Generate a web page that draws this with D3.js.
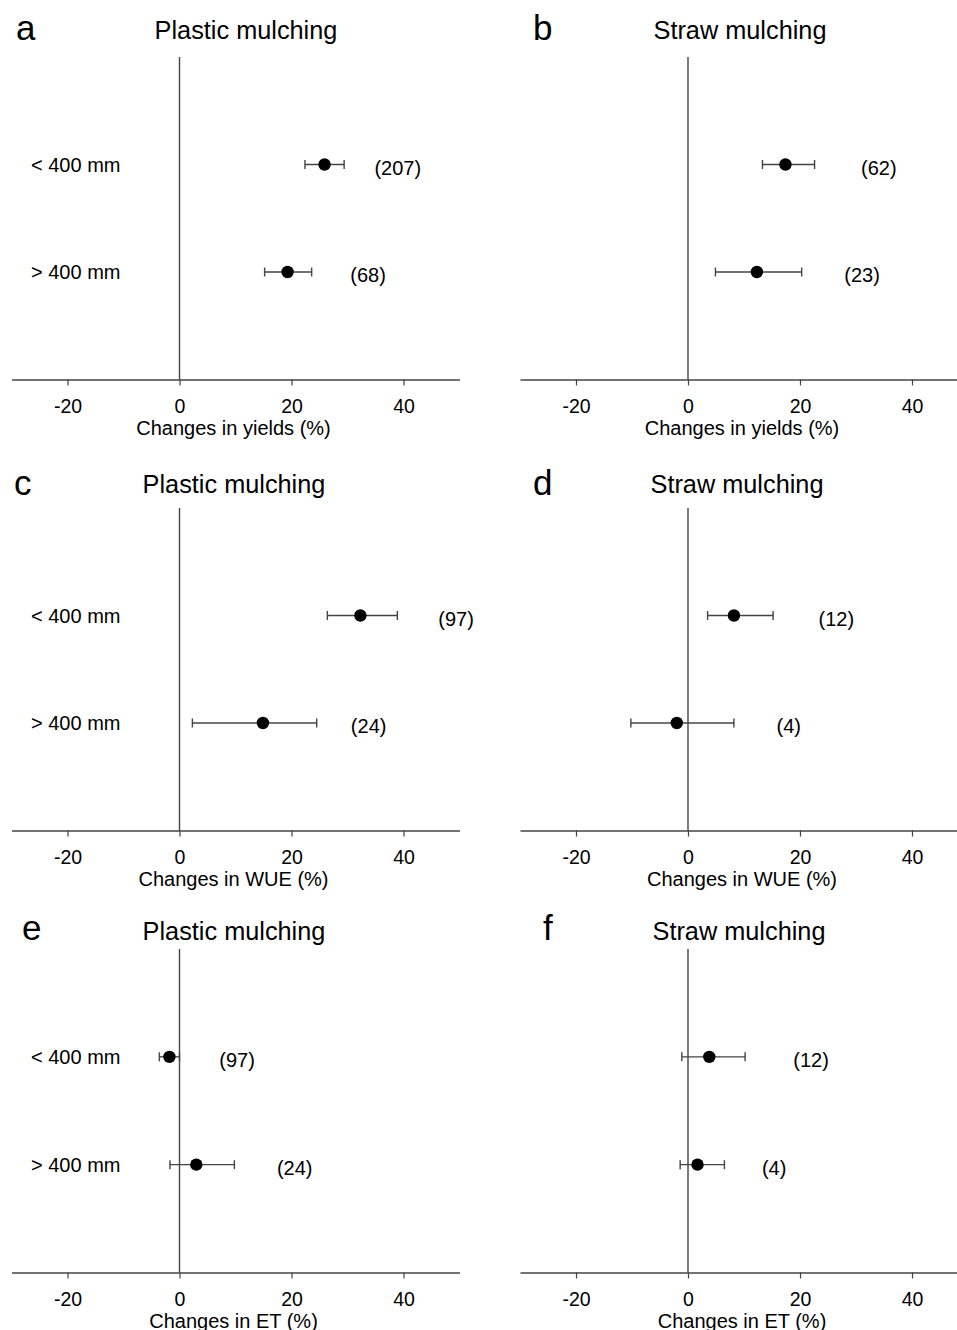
<!DOCTYPE html>
<html>
<head>
<meta charset="utf-8">
<script src="https://cdn.jsdelivr.net/npm/d3@7"></script>
<style>
  html, body { margin: 0; padding: 0; background: #fff; }
  svg { display: block; font-family: "Liberation Sans", Arial, sans-serif; }
</style>
</head>
<body>
<svg id="chart" width="957" height="1330"></svg>
<script>
// ---- data ----
const panelLetters = ["a", "b", "c", "d", "e", "f"];
const treatments = ["Plastic mulching", "Straw mulching", "Plastic mulching", "Straw mulching", "Plastic mulching", "Straw mulching"];
const metricTitles = ["Changes in yields (%)", "Changes in yields (%)", "Changes in WUE (%)", "Changes in WUE (%)", "Changes in ET (%)", "Changes in ET (%)"];
const categories = ["< 400 mm", "> 400 mm"];
const means = [[25.9, 19.3], [17.4, 12.3], [32.3, 14.9], [8.2, -2.0], [-1.8, 3.0], [3.8, 1.7]];
const lower = [[22.4, 15.2], [13.3, 4.9], [26.4, 2.3], [3.5, -10.2], [-3.6, -1.7], [-1.1, -1.4]];
const upper = [[29.4, 23.6], [22.6, 20.3], [38.9, 24.5], [15.2, 8.2], [0.0, 9.8], [10.2, 6.5]];
const counts = [[207, 68], [62, 23], [97, 24], [12, 4], [97, 24], [12, 4]];
const countLabelAt = [[34.8, 30.5], [30.9, 27.9], [46.2, 30.6], [23.3, 15.8], [7.1, 17.4], [18.8, 13.2]];
const xTicks = [-20, 0, 20, 40];
const xDomain = [-30, 50];

// ---- layout ----
const cols = [
  { x0: 11.5, x1: 459.5, catX: 31 },
  { x0: 520, x1: 968, catX: null }
];
const rows = [
  { top: 57, axisY: 379.5, titleY: 39, letterY: 40 },
  { top: 508, axisY: 830.5, titleY: 493, letterY: 495 },
  { top: 949, axisY: 1272.5, titleY: 940, letterY: 940 }
];
const titleXs = [246, 740, 234, 737, 234, 739];
const letterXs = [16, 533, 14, 533, 22, 543];

const svg = d3.select("#chart");
const lineColor = "#444";
const smallFont = 20;

panelLetters.forEach((letter, i) => {
  const col = cols[i % 2];
  const row = rows[Math.floor(i / 2)];
  const g = svg.append("g");

  const x = d3.scaleLinear().domain(xDomain).range([col.x0, col.x1]);
  const y = d3.scalePoint().domain(categories).range([row.top, row.axisY]).padding(1);

  // x axis
  const axis = d3.axisBottom(x).tickValues(xTicks).tickSize(6).tickSizeOuter(0).tickPadding(14)
    .tickFormat(d => String(d));
  const ag = g.append("g").attr("transform", `translate(0,${row.axisY})`).call(axis);
  ag.attr("font-size", null).attr("font-family", null);
  ag.select(".domain").attr("stroke", lineColor).attr("stroke-width", 1.4);
  ag.selectAll(".tick line").attr("stroke", lineColor).attr("stroke-width", 1.2);
  ag.selectAll(".tick text").attr("fill", "#000").attr("font-size", 19.5);

  // zero line
  g.append("line")
    .attr("x1", x(0)).attr("x2", x(0))
    .attr("y1", row.top).attr("y2", row.axisY)
    .attr("stroke", lineColor).attr("stroke-width", 1.4);

  // axis title
  g.append("text")
    .attr("x", x(10) - 2).attr("y", row.axisY + 55)
    .attr("text-anchor", "middle").attr("font-size", smallFont).attr("fill", "#000")
    .text(metricTitles[i]);

  // panel title
  g.append("text")
    .attr("x", titleXs[i]).attr("y", row.titleY)
    .attr("text-anchor", "middle").attr("font-size", 25.3).attr("fill", "#000")
    .text(treatments[i]);

  // panel letter
  g.append("text")
    .attr("x", letterXs[i]).attr("y", row.letterY)
    .attr("font-size", 35).attr("fill", "#000")
    .text(letter);

  // category labels (left column only)
  if (col.catX !== null) {
    categories.forEach(c => {
      g.append("text")
        .attr("x", col.catX).attr("y", y(c) + 7)
        .attr("font-size", smallFont).attr("fill", "#000")
        .text(c);
    });
  }

  const pts = categories.map((c, k) => ({
    cat: c, m: means[i][k], lo: lower[i][k], hi: upper[i][k], n: counts[i][k], lx: countLabelAt[i][k]
  }));

  // error bars
  const eb = g.selectAll(".eb").data(pts).enter().append("g");
  eb.append("line")
    .attr("x1", d => x(d.lo)).attr("x2", d => x(d.hi))
    .attr("y1", d => y(d.cat)).attr("y2", d => y(d.cat))
    .attr("stroke", lineColor).attr("stroke-width", 1.4);
  eb.append("line")
    .attr("x1", d => x(d.lo)).attr("x2", d => x(d.lo))
    .attr("y1", d => y(d.cat) - 4.5).attr("y2", d => y(d.cat) + 4.5)
    .attr("stroke", lineColor).attr("stroke-width", 1.4);
  eb.append("line")
    .attr("x1", d => x(d.hi)).attr("x2", d => x(d.hi))
    .attr("y1", d => y(d.cat) - 4.5).attr("y2", d => y(d.cat) + 4.5)
    .attr("stroke", lineColor).attr("stroke-width", 1.4);

  // points
  g.selectAll(".pt").data(pts).enter().append("circle")
    .attr("cx", d => x(d.m)).attr("cy", d => y(d.cat)).attr("r", 6.2)
    .attr("fill", "#000");

  // counts
  g.selectAll(".cnt").data(pts).enter().append("text")
    .attr("x", d => x(d.lx)).attr("y", d => y(d.cat) + 10)
    .attr("font-size", smallFont).attr("fill", "#000")
    .text(d => `(${d.n})`);
});
</script>
</body>
</html>
